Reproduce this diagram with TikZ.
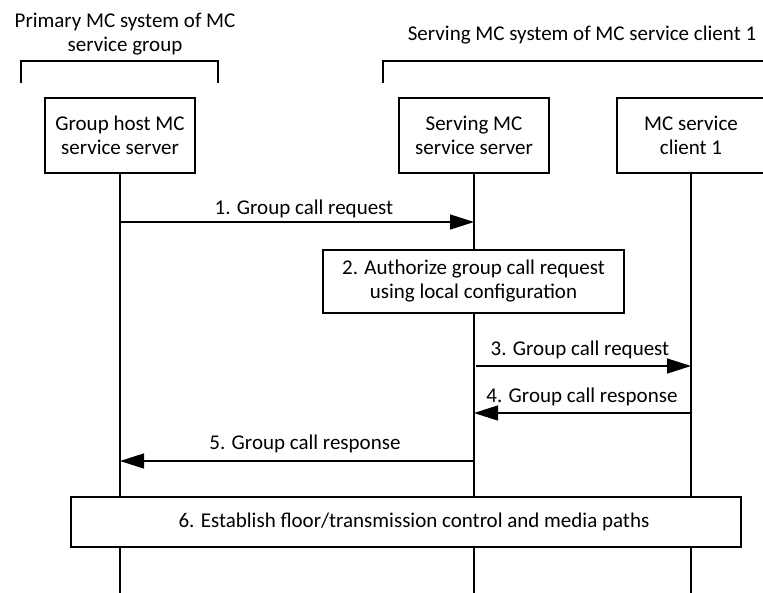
\documentclass[tikz,border=0pt]{standalone}
\usepackage{fontspec}
\setmainfont{Carlito}
\usetikzlibrary{arrows.meta}
\begin{document}
\begin{tikzpicture}[x=1pt,y=-1pt,
  font=\fontsize{21}{24}\selectfont,
  entity/.style={draw, line width=1.5pt, fill=white, align=center, inner sep=0pt,
                 minimum width=150pt, minimum height=75pt},
  stepbox/.style={draw, line width=1.5pt, fill=white, align=center, inner sep=0pt},
  life/.style={line width=1.3pt},
  bracket/.style={line width=1.1pt},
  msg/.style={line width=1.4pt, -{Triangle[length=24pt,width=15pt]}},
  lbl/.style={inner sep=0pt, anchor=base},
  title/.style={inner sep=0pt, align=center}]
\useasboundingbox (0,0) rectangle (763,592);

% group titles and brackets
\node[title] (t1) at (125,34) {Primary MC system of MC\\service group};
\node[title] (t2) at (582,35) {Serving MC system of MC service client 1};
\draw[bracket] (21,83) -- (21,61) -- (218,61) -- (218,83);
\draw[bracket] (383,83) -- (383,61) -- (775,61);

% entities
\node[entity] (b1) at (120,135.5) {Group host MC\\service server};
\node[entity] (b2) at (474,135.5) {Serving MC\\service server};
\node[entity, minimum width=148pt] (b3) at (691,135.5) {MC service\\client 1};

% lifeline ends
\coordinate (e1) at (120,600);
\coordinate (e2) at (474,600);
\coordinate (e3) at (691,600);
\draw[life] (b1.south) -- (e1);
\draw[life] (b2.south) -- (e2);
\draw[life] (b3.south) -- (e3);

% message anchor points
\coordinate (m1a) at (120,222); \coordinate (m1b) at (474,222);
\coordinate (m3a) at (476,366); \coordinate (m3b) at (691,366);
\coordinate (m4a) at (691,413); \coordinate (m4b) at (474,413);
\coordinate (m5a) at (474,461); \coordinate (m5b) at (120,461);

\draw[msg] (m1a) -- (m1b);
\node[lbl] (l1) at (304,214) {1. Group call request};

\node[stepbox, minimum width=301pt, minimum height=63pt] (s2) at (473.5,281.5)
  {2. Authorize group call request\\using local configuration};

\draw[msg] (m3a) -- (m3b);
\node[lbl] (l3) at (580,355) {3. Group call request};

\draw[msg] (m4a) -- (m4b);
\node[lbl] (l4) at (582,402) {4. Group call response};

\draw[msg] (m5a) -- (m5b);
\node[lbl] (l5) at (305,449) {5. Group call response};

\node[stepbox, minimum width=670pt, minimum height=50pt] (s6) at (406,522) {};
\node[inner sep=0pt] (t6) at (414,522) {6. Establish floor/transmission control and media paths};
\end{tikzpicture}
\end{document}
